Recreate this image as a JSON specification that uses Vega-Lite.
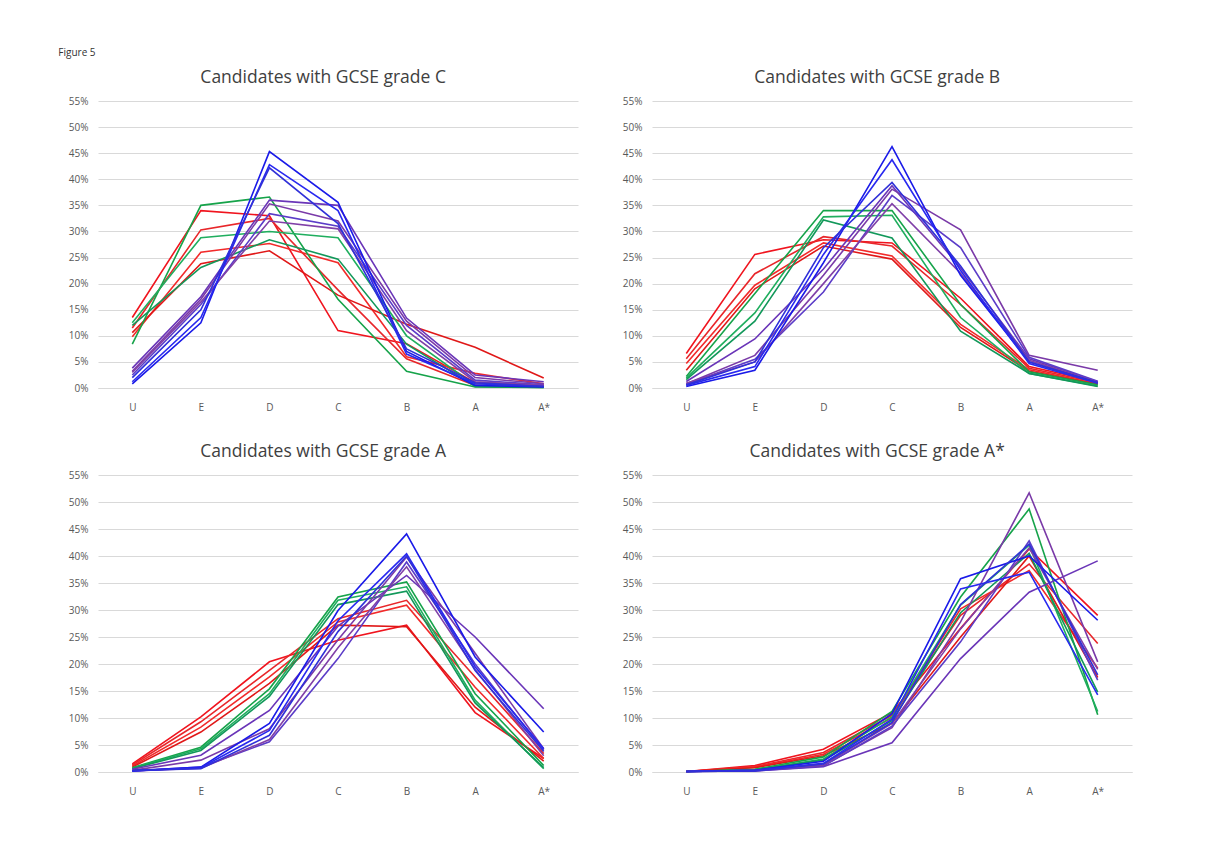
{
  "$schema": "https://vega.github.io/schema/vega-lite/v6.json",
  "background": "white",
  "padding": {"left": 58, "top": 47, "right": 5, "bottom": 5},
  "title": {"text": "Figure 5", "anchor": "start", "fontSize": 10, "font": "Open Sans", "fontWeight": "normal", "color": "#333333", "dx": -10, "offset": 11},
  "datasets": {
    "d": [
      {"panel": "C", "s": "r1", "U": 13.5, "E": 34, "D": 33, "C": 11, "B": 8.5, "A": 1, "A*": 0.5},
      {"panel": "C", "s": "r2", "U": 11.5, "E": 30.3, "D": 32.5, "C": 18.8, "B": 5.6, "A": 0.5, "A*": 0.3},
      {"panel": "C", "s": "r3", "U": 9.8, "E": 26, "D": 27.7, "C": 24, "B": 6, "A": 2.8, "A*": 0.8},
      {"panel": "C", "s": "r4", "U": 10.6, "E": 23.8, "D": 26.3, "C": 17.8, "B": 12.2, "A": 7.8, "A*": 1.9},
      {"panel": "C", "s": "g1", "U": 8.4, "E": 35, "D": 36.6, "C": 17, "B": 3.2, "A": 0.2, "A*": 0.1},
      {"panel": "C", "s": "g2", "U": 12.5, "E": 28.8, "D": 30, "C": 28.8, "B": 10, "A": 0.5, "A*": 0.2},
      {"panel": "C", "s": "g3", "U": 12, "E": 23.1, "D": 28.4, "C": 24.7, "B": 8.4, "A": 0.3, "A*": 0.1},
      {"panel": "C", "s": "p1", "U": 3.8, "E": 17.5, "D": 36, "C": 35, "B": 13.4, "A": 2.5, "A*": 1.2},
      {"panel": "C", "s": "p2", "U": 3.2, "E": 17, "D": 35.3, "C": 32, "B": 12.8, "A": 2, "A*": 0.8},
      {"panel": "C", "s": "p3", "U": 2.5, "E": 16, "D": 33.4, "C": 31, "B": 12, "A": 1.5, "A*": 0.6},
      {"panel": "C", "s": "p4", "U": 3, "E": 16.5, "D": 32, "C": 30.5, "B": 11, "A": 1.2, "A*": 0.5},
      {"panel": "C", "s": "b1", "U": 0.8, "E": 12.5, "D": 45.3, "C": 35.6, "B": 7, "A": 0.5, "A*": 0.2},
      {"panel": "C", "s": "b2", "U": 1.2, "E": 13.5, "D": 42.8, "C": 34, "B": 6.5, "A": 0.8, "A*": 0.3},
      {"panel": "C", "s": "b3", "U": 2, "E": 15, "D": 42.2, "C": 31.5, "B": 7.5, "A": 1, "A*": 0.3},

      {"panel": "B", "s": "r1", "U": 6.6, "E": 25.6, "D": 28.4, "C": 27.8, "B": 17.2, "A": 4.1, "A*": 1.2},
      {"panel": "B", "s": "r2", "U": 5.6, "E": 21.9, "D": 29, "C": 27.2, "B": 16, "A": 3.8, "A*": 1},
      {"panel": "B", "s": "r3", "U": 4.7, "E": 19.7, "D": 27.8, "C": 25.3, "B": 12.2, "A": 3.5, "A*": 0.8},
      {"panel": "B", "s": "r4", "U": 3.4, "E": 19, "D": 27.2, "C": 24.7, "B": 11.6, "A": 3.2, "A*": 0.7},
      {"panel": "B", "s": "g1", "U": 2.2, "E": 18.1, "D": 34, "C": 34, "B": 16, "A": 3.1, "A*": 0.6},
      {"panel": "B", "s": "g2", "U": 1.9, "E": 14.4, "D": 32.8, "C": 33.1, "B": 13.5, "A": 2.8, "A*": 0.4},
      {"panel": "B", "s": "g3", "U": 1.6, "E": 12.8, "D": 32.2, "C": 28.75, "B": 10.9, "A": 2.8, "A*": 0.3},
      {"panel": "B", "s": "p1", "U": 1.25, "E": 9.4, "D": 22.8, "C": 38.75, "B": 23, "A": 5.6, "A*": 1.2},
      {"panel": "B", "s": "p2", "U": 0.8, "E": 6.25, "D": 21.6, "C": 38.1, "B": 30.3, "A": 6.25, "A*": 3.4},
      {"panel": "B", "s": "p3", "U": 0.7, "E": 5.5, "D": 18.4, "C": 36.9, "B": 26.9, "A": 5.9, "A*": 1.3},
      {"panel": "B", "s": "p4", "U": 0.9, "E": 5, "D": 20, "C": 35.3, "B": 22, "A": 5.3, "A*": 1.1},
      {"panel": "B", "s": "b1", "U": 0.3, "E": 3.4, "D": 24, "C": 46.25, "B": 21.6, "A": 5, "A*": 1},
      {"panel": "B", "s": "b2", "U": 0.5, "E": 4.1, "D": 25.6, "C": 43.75, "B": 22.5, "A": 4.7, "A*": 0.9},
      {"panel": "B", "s": "b3", "U": 0.6, "E": 5, "D": 26.9, "C": 39.4, "B": 23.4, "A": 5, "A*": 1},

      {"panel": "A", "s": "r1", "U": 1.5, "E": 10.2, "D": 20.4, "C": 24.4, "B": 27.2, "A": 11, "A*": 2.5},
      {"panel": "A", "s": "r2", "U": 1.3, "E": 9.3, "D": 18.8, "C": 28.4, "B": 31.8, "A": 17.6, "A*": 3.4},
      {"panel": "A", "s": "r3", "U": 1.1, "E": 8.3, "D": 17.6, "C": 27.8, "B": 30.9, "A": 15.7, "A*": 2.5},
      {"panel": "A", "s": "r4", "U": 0.9, "E": 7.4, "D": 16.4, "C": 27.2, "B": 26.9, "A": 12, "A*": 2},
      {"panel": "A", "s": "g1", "U": 0.8, "E": 4.6, "D": 15.4, "C": 32.4, "B": 35.2, "A": 14.5, "A*": 1.2},
      {"panel": "A", "s": "g2", "U": 0.7, "E": 4.3, "D": 14.5, "C": 31.8, "B": 34.3, "A": 13.3, "A*": 0.6},
      {"panel": "A", "s": "g3", "U": 0.6, "E": 4, "D": 14, "C": 31, "B": 33.5, "A": 12.8, "A*": 0.8},
      {"panel": "A", "s": "p1", "U": 0.5, "E": 3.1, "D": 11.4, "C": 27, "B": 36.4, "A": 25, "A*": 11.7},
      {"panel": "A", "s": "p2", "U": 0.3, "E": 2.2, "D": 8, "C": 24.5, "B": 39.8, "A": 22, "A*": 4.3},
      {"panel": "A", "s": "p3", "U": 0.2, "E": 0.9, "D": 5.6, "C": 21, "B": 38.9, "A": 20, "A*": 4},
      {"panel": "A", "s": "p4", "U": 0.2, "E": 0.7, "D": 6, "C": 23, "B": 38, "A": 19, "A*": 3},
      {"panel": "A", "s": "b1", "U": 0.2, "E": 0.9, "D": 9, "C": 29.9, "B": 44.1, "A": 21.3, "A*": 7.4},
      {"panel": "A", "s": "b2", "U": 0.2, "E": 0.8, "D": 7.7, "C": 28, "B": 40.4, "A": 19.5, "A*": 4.3},
      {"panel": "A", "s": "b3", "U": 0.3, "E": 0.6, "D": 6.8, "C": 26, "B": 40, "A": 18.8, "A*": 3.8},

      {"panel": "A*", "s": "r1", "U": 0.1, "E": 1.2, "D": 4.2, "C": 11, "B": 26.6, "A": 41.3, "A*": 29},
      {"panel": "A*", "s": "r2", "U": 0.1, "E": 1, "D": 3.6, "C": 10.5, "B": 29, "A": 38.5, "A*": 23.8},
      {"panel": "A*", "s": "r3", "U": 0.1, "E": 0.9, "D": 3.3, "C": 10, "B": 30.2, "A": 37.3, "A*": 19.2},
      {"panel": "A*", "s": "r4", "U": 0.1, "E": 0.8, "D": 3, "C": 9, "B": 25, "A": 40, "A*": 17.5},
      {"panel": "A*", "s": "g1", "U": 0.1, "E": 0.5, "D": 2.8, "C": 11.2, "B": 32.4, "A": 48.7, "A*": 10.6},
      {"panel": "A*", "s": "g2", "U": 0.1, "E": 0.4, "D": 2.4, "C": 10.2, "B": 30.9, "A": 42, "A*": 11.2},
      {"panel": "A*", "s": "g3", "U": 0.1, "E": 0.4, "D": 2.2, "C": 9.5, "B": 29.5, "A": 40.5, "A*": 14.8},
      {"panel": "A*", "s": "p1", "U": 0.1, "E": 0.2, "D": 1, "C": 5.4, "B": 21, "A": 33.3, "A*": 39.1},
      {"panel": "A*", "s": "p2", "U": 0.1, "E": 0.3, "D": 1.2, "C": 8.2, "B": 27.8, "A": 51.7, "A*": 20.4},
      {"panel": "A*", "s": "p3", "U": 0.1, "E": 0.2, "D": 1.1, "C": 8.5, "B": 24.1, "A": 42.8, "A*": 17},
      {"panel": "A*", "s": "p4", "U": 0.1, "E": 0.3, "D": 1.3, "C": 9, "B": 26.5, "A": 41.5, "A*": 19},
      {"panel": "A*", "s": "b1", "U": 0.1, "E": 0.3, "D": 2, "C": 10.8, "B": 35.8, "A": 40, "A*": 28.1},
      {"panel": "A*", "s": "b2", "U": 0.1, "E": 0.3, "D": 1.6, "C": 9.8, "B": 33.9, "A": 37, "A*": 14.3},
      {"panel": "A*", "s": "b3", "U": 0.1, "E": 0.2, "D": 1.5, "C": 9.2, "B": 31, "A": 42.2, "A*": 18}
    ]
  },
  "data": {"name": "d"},
  "transform": [{"fold": ["U", "E", "D", "C", "B", "A", "A*"], "as": ["grade", "pct"]}],
  "spacing": 30,
  "vconcat": [
    {
      "spacing": 44,
      "hconcat": [
        {
          "width": 480, "height": 287,
          "title": "Candidates with GCSE grade C",
          "transform": [{"filter": "datum.panel === 'C'"}],
          "mark": {"type": "line", "strokeWidth": 1.6},
          "encoding": {
            "x": {"field": "grade", "type": "ordinal", "sort": ["U", "E", "D", "C", "B", "A", "A*"], "scale": {"type": "point", "padding": 0.5}, "axis": {"title": null, "labelAngle": 0}},
            "y": {"field": "pct", "type": "quantitative", "scale": {"domain": [0, 55]}, "axis": {"title": null, "values": [0, 5, 10, 15, 20, 25, 30, 35, 40, 45, 50, 55], "labelExpr": "datum.value + '%'"}},
            "color": {"field": "s", "type": "nominal", "legend": null, "scale": {"domain": ["r1", "r2", "r3", "r4", "g1", "g2", "g3", "p1", "p2", "p3", "p4", "b1", "b2", "b3"], "range": ["#f0141e", "#e8262a", "#f22a2a", "#e01818", "#16a34a", "#1fae5e", "#12985a", "#6a35b8", "#7a3aa8", "#5b3cc8", "#8040a8", "#1a1ae8", "#2828f0", "#3030d8"]}}
          }
        },
        {
          "width": 480, "height": 287,
          "title": "Candidates with GCSE grade B",
          "transform": [{"filter": "datum.panel === 'B'"}],
          "mark": {"type": "line", "strokeWidth": 1.6},
          "encoding": {
            "x": {"field": "grade", "type": "ordinal", "sort": ["U", "E", "D", "C", "B", "A", "A*"], "scale": {"type": "point", "padding": 0.5}, "axis": {"title": null, "labelAngle": 0}},
            "y": {"field": "pct", "type": "quantitative", "scale": {"domain": [0, 55]}, "axis": {"title": null, "values": [0, 5, 10, 15, 20, 25, 30, 35, 40, 45, 50, 55], "labelExpr": "datum.value + '%'"}},
            "color": {"field": "s", "type": "nominal", "legend": null, "scale": {"domain": ["r1", "r2", "r3", "r4", "g1", "g2", "g3", "p1", "p2", "p3", "p4", "b1", "b2", "b3"], "range": ["#f0141e", "#e8262a", "#f22a2a", "#e01818", "#16a34a", "#1fae5e", "#12985a", "#6a35b8", "#7a3aa8", "#5b3cc8", "#8040a8", "#1a1ae8", "#2828f0", "#3030d8"]}}
          }
        }
      ]
    },
    {
      "spacing": 44,
      "hconcat": [
        {
          "width": 480, "height": 297,
          "title": "Candidates with GCSE grade A",
          "transform": [{"filter": "datum.panel === 'A'"}],
          "mark": {"type": "line", "strokeWidth": 1.6},
          "encoding": {
            "x": {"field": "grade", "type": "ordinal", "sort": ["U", "E", "D", "C", "B", "A", "A*"], "scale": {"type": "point", "padding": 0.5}, "axis": {"title": null, "labelAngle": 0}},
            "y": {"field": "pct", "type": "quantitative", "scale": {"domain": [0, 55]}, "axis": {"title": null, "values": [0, 5, 10, 15, 20, 25, 30, 35, 40, 45, 50, 55], "labelExpr": "datum.value + '%'"}},
            "color": {"field": "s", "type": "nominal", "legend": null, "scale": {"domain": ["r1", "r2", "r3", "r4", "g1", "g2", "g3", "p1", "p2", "p3", "p4", "b1", "b2", "b3"], "range": ["#f0141e", "#e8262a", "#f22a2a", "#e01818", "#16a34a", "#1fae5e", "#12985a", "#6a35b8", "#7a3aa8", "#5b3cc8", "#8040a8", "#1a1ae8", "#2828f0", "#3030d8"]}}
          }
        },
        {
          "width": 480, "height": 297,
          "title": "Candidates with GCSE grade A*",
          "transform": [{"filter": "datum.panel === 'A*'"}],
          "mark": {"type": "line", "strokeWidth": 1.6},
          "encoding": {
            "x": {"field": "grade", "type": "ordinal", "sort": ["U", "E", "D", "C", "B", "A", "A*"], "scale": {"type": "point", "padding": 0.5}, "axis": {"title": null, "labelAngle": 0}},
            "y": {"field": "pct", "type": "quantitative", "scale": {"domain": [0, 55]}, "axis": {"title": null, "values": [0, 5, 10, 15, 20, 25, 30, 35, 40, 45, 50, 55], "labelExpr": "datum.value + '%'"}},
            "color": {"field": "s", "type": "nominal", "legend": null, "scale": {"domain": ["r1", "r2", "r3", "r4", "g1", "g2", "g3", "p1", "p2", "p3", "p4", "b1", "b2", "b3"], "range": ["#f0141e", "#e8262a", "#f22a2a", "#e01818", "#16a34a", "#1fae5e", "#12985a", "#6a35b8", "#7a3aa8", "#5b3cc8", "#8040a8", "#1a1ae8", "#2828f0", "#3030d8"]}}
          }
        }
      ]
    }
  ],
  "config": {
    "view": {"stroke": null},
    "title": {"font": "Open Sans", "fontSize": 17.5, "fontWeight": "normal", "color": "#404040", "anchor": "middle", "frame": "bounds", "offset": 10},
    "axis": {"labelFont": "Open Sans", "labelFontSize": 10, "labelColor": "#595959", "ticks": false, "domain": false, "gridColor": "#d9d9d9", "gridWidth": 1},
    "axisX": {"grid": false, "domain": true, "domainColor": "#d9d9d9", "labelPadding": 14},
    "axisY": {"labelPadding": 10}
  }
}
